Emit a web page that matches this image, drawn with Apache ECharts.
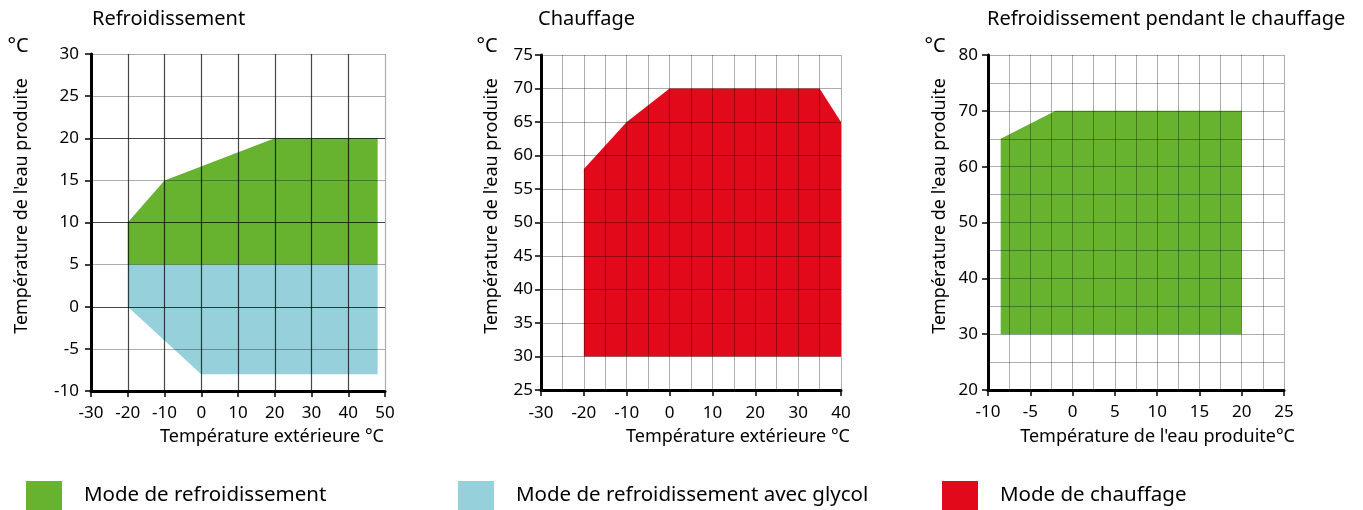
<!DOCTYPE html>
<html><head><meta charset="utf-8">
<script src="https://cdn.jsdelivr.net/npm/echarts@6/dist/echarts.min.js"></script>
<style>html,body{margin:0;padding:0;background:#fff}#c{width:1363px;height:510px}</style>
</head><body><div id="c"></div>
<script>
// ---- Data ----
const titles = ['Refroidissement', 'Chauffage', 'Refroidissement pendant le chauffage'];
const xNames = ['Température extérieure °C', 'Température extérieure °C', "Température de l'eau produite°C"];
const yName = "Température de l'eau produite";
const unit = '°C';
const seriesNames = ['Mode de refroidissement', 'Mode de refroidissement avec glycol', 'Mode de chauffage'];

// tick labels
const x1Ticks = [-30, -20, -10, 0, 10, 20, 30, 40, 50];
const y1Ticks = [-10, -5, 0, 5, 10, 15, 20, 25, 30];
const x2Ticks = [-30, -20, -10, 0, 10, 20, 30, 40];
const y2Ticks = [25, 30, 35, 40, 45, 50, 55, 60, 65, 70, 75];
const x3Ticks = [-10, -5, 0, 5, 10, 15, 20, 25];
const y3Ticks = [20, 30, 40, 50, 60, 70, 80];

// polygon vertices [x, y]
const coolingArea = [[-20, 10], [-10, 15], [20, 20], [48, 20], [48, 5], [-20, 5]];
const glycolArea = [[-20, 5], [48, 5], [48, -8], [0, -8], [-10, -4], [-20, 0]];
const heatingArea = [[-20, 58], [-10, 65], [0, 70], [35, 70], [40, 65], [40, 30], [-20, 30]];
const coolHeatArea = [[-8.5, 30], [-8.5, 65], [-2, 70], [20, 70], [20, 30]];

// ---- Styles ----
const FONT = '"Noto Sans", sans-serif';
const GREEN = '#67B22E', BLUE = '#95D0DB', RED = '#E20A1A';
const DARK = 'rgba(0,0,0,0.72)', LIGHT = 'rgba(0,0,0,0.32)';

const grids = [
  {left: 91, top: 54, width: 294, height: 337},
  {left: 541, top: 55, width: 300, height: 335},
  {left: 988, top: 55, width: 296, height: 335}
];

function axisBase(ticks, isX, labelMargin) {
  return {
    type: 'value', min: ticks[0], max: ticks[ticks.length - 1],
    interval: ticks[1] - ticks[0], z: 5,
    axisLine: {show: true, onZero: false, lineStyle: {color: '#000', width: 3}},
    axisTick: {show: true, length: 6, lineStyle: {color: '#000', width: 1.5}},
    axisLabel: {color: '#000', fontSize: 17, fontFamily: FONT, margin: labelMargin, showMinLabel: true, showMaxLabel: true},
    splitLine: {show: true, lineStyle: {color: LIGHT, width: 1}}
  };
}

const xAxes = [
  Object.assign(axisBase(x1Ticks, true, 14), {gridIndex: 0,
    splitLine: {show: true, lineStyle: {color: [DARK, DARK, DARK, DARK, DARK, DARK, DARK, DARK, LIGHT], width: 1.2}}}),
  Object.assign(axisBase(x2Ticks, true, 15), {gridIndex: 1,
    minorTick: {show: false, splitNumber: 2}, minorSplitLine: {show: true, lineStyle: {color: LIGHT, width: 1}}}),
  Object.assign(axisBase(x3Ticks, true, 14), {gridIndex: 2,
    minorTick: {show: false, splitNumber: 2}, minorSplitLine: {show: true, lineStyle: {color: LIGHT, width: 1}}})
];
const yAxes = [
  Object.assign(axisBase(y1Ticks, false, 12), {gridIndex: 0,
    splitLine: {show: true, lineStyle: {color: [DARK, LIGHT, DARK, LIGHT, DARK, LIGHT, DARK, LIGHT, LIGHT], width: 1.2}}}),
  Object.assign(axisBase(y2Ticks, false, 8), {gridIndex: 1}),
  Object.assign(axisBase(y3Ticks, false, 10), {gridIndex: 2,
    minorTick: {show: false, splitNumber: 2}, minorSplitLine: {show: true, lineStyle: {color: LIGHT, width: 1}}})
];

function polySeries(name, pts, color, idx) {
  return {
    type: 'custom', name: name, xAxisIndex: idx, yAxisIndex: idx, z: 2,
    data: pts, encode: {x: 0, y: 1},
    itemStyle: {color: color}, silent: true,
    renderItem: function (params, api) {
      if (params.dataIndex !== 0) return;
      const points = pts.map(p => api.coord(p));
      return {type: 'polygon', shape: {points: points}, style: {fill: color}};
    }
  };
}

const series = [
  polySeries(seriesNames[0], coolingArea, GREEN, 0),
  polySeries(seriesNames[1], glycolArea, BLUE, 0),
  polySeries(seriesNames[2], heatingArea, RED, 1),
  polySeries(seriesNames[0], coolHeatArea, GREEN, 2)
];

function txt(text, x, y, size, align, rot) {
  return {type: 'text', x: x, y: y, rotation: rot || 0, z: 10,
    style: {text: text, font: size + 'px ' + FONT, fill: '#000', textAlign: align, textVerticalAlign: 'middle'}};
}

const graphics = [
  txt(titles[0], 92, 19, 20, 'left'),
  txt(titles[1], 538, 19, 20, 'left'),
  txt(titles[2], 987, 19, 20, 'left'),
  txt(unit, 18, 46, 20, 'center'),
  txt(unit, 487, 46, 20, 'center'),
  txt(unit, 935, 46, 20, 'center'),
  txt(xNames[0], 384, 437, 18, 'right'),
  txt(xNames[1], 850, 437, 18, 'right'),
  txt(xNames[2], 1295, 437, 18, 'right'),
  txt(yName, 22, 206, 18, 'center', Math.PI / 2),
  txt(yName, 492, 206, 18, 'center', Math.PI / 2),
  txt(yName, 940, 206, 18, 'center', Math.PI / 2)
];

function legendAt(name, left) {
  return {data: [name], left: left, top: 481, padding: 0, icon: 'rect',
    itemWidth: 36, itemHeight: 29, selectedMode: false,
    textStyle: {fontSize: 20.5, fontFamily: FONT, color: '#000', padding: [2, 0, 0, 17]}};
}

const chart = echarts.init(document.getElementById('c'), null, {renderer: 'canvas'});
chart.setOption({
  animation: false,
  backgroundColor: '#fff',
  grid: grids,
  xAxis: xAxes,
  yAxis: yAxes,
  series: series,
  legend: [legendAt(seriesNames[0], 26), legendAt(seriesNames[1], 458), legendAt(seriesNames[2], 942)],
  graphic: graphics
});
</script></body></html>
